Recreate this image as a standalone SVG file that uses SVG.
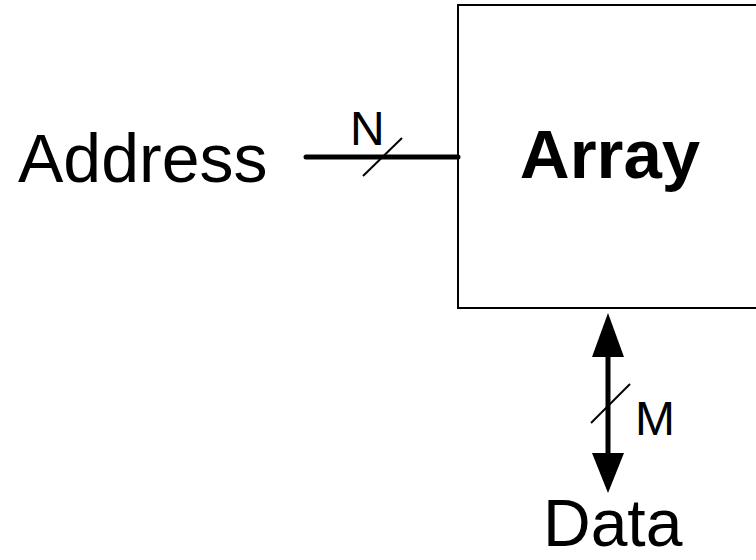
<svg xmlns="http://www.w3.org/2000/svg" width="756" height="560" viewBox="0 0 756 560">
<style>
text{font-family:"Liberation Sans",Arial,sans-serif;fill:#000}
.big{font-size:68px}
.small{font-size:48px}
.bus{stroke:#000;stroke-width:5;stroke-linecap:round;fill:none}
.slash{stroke:#000;stroke-width:2;fill:none}
</style>
<rect width="756" height="560" fill="#fff"/>
<g id="array">
<rect x="458" y="5" width="310" height="303" fill="#fff" stroke="#000" stroke-width="2"/>
<text x="610" y="178" font-size="69" font-weight="bold" text-anchor="middle">Array</text>
</g>
<g id="address"><text class="big" x="18" y="182">Address</text></g>
<g id="data"><text x="543" y="546" font-size="66">Data</text></g>
<g id="connectors">
<line class="bus" x1="306" y1="157" x2="458" y2="157"/>
<line class="slash" x1="363" y1="176" x2="402" y2="138"/>
<text class="small" x="350" y="145">N</text>
<line class="bus" x1="608" y1="350" x2="608" y2="460" style="stroke-linecap:butt"/>
<polygon points="608,313 624,357 592,357" fill="#000"/>
<polygon points="608,493 624,453 592,453" fill="#000"/>
<line class="slash" x1="591" y1="423" x2="630" y2="384"/>
<text class="small" x="635" y="435">M</text>
</g>
</svg>
